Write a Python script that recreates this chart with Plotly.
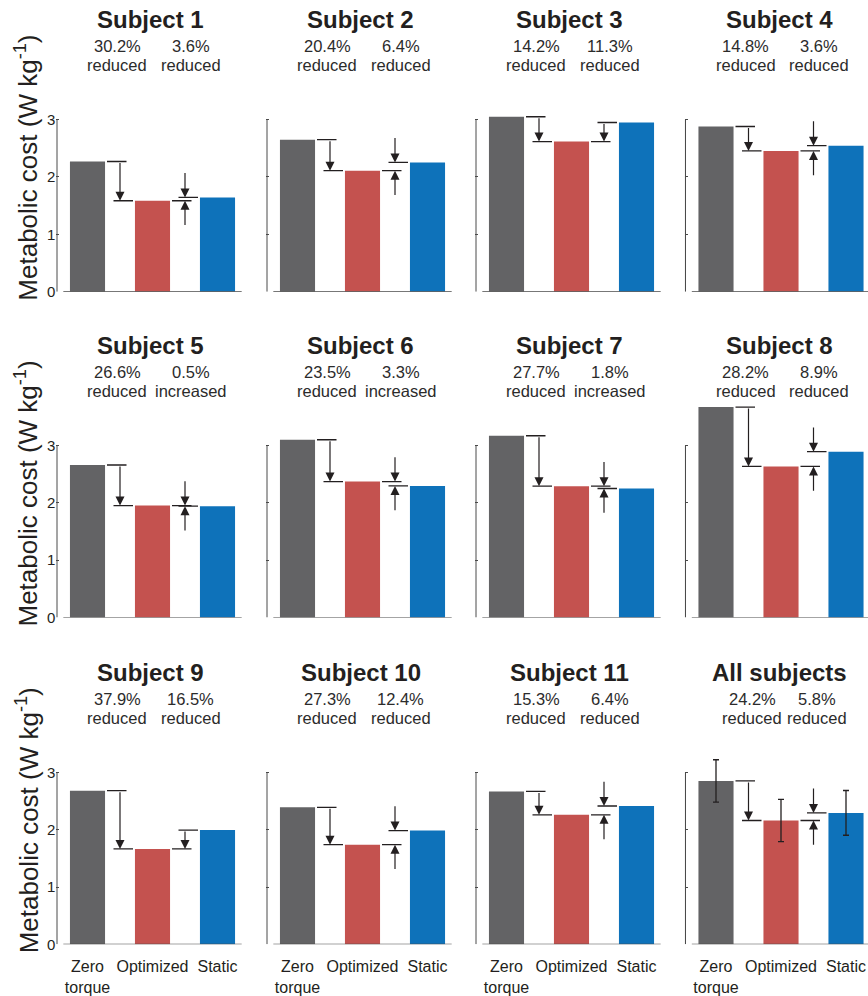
import plotly.graph_objects as go

# ---- data -------------------------------------------------------------
subjects = ["Subject 1", "Subject 2", "Subject 3", "Subject 4",
            "Subject 5", "Subject 6", "Subject 7", "Subject 8",
            "Subject 9", "Subject 10", "Subject 11", "All subjects"]
conditions = ["Zero<br>torque", "Optimized", "Static"]

# metabolic cost, W kg^-1
zero_torque = [2.27, 2.65, 3.05, 2.88, 2.66, 3.10, 3.17, 3.67, 2.68, 2.39, 2.667, 2.85]
optimized = [1.585, 2.11, 2.617, 2.454, 1.952, 2.37, 2.29, 2.635, 1.664, 1.738, 2.259, 2.16]
static = [1.644, 2.254, 2.95, 2.546, 1.942, 2.295, 2.25, 2.892, 1.993, 1.984, 2.413, 2.293]

# change of optimized vs zero torque and vs static
change_vs_zero = ["30.2%", "20.4%", "14.2%", "14.8%", "26.6%", "23.5%",
                  "27.7%", "28.2%", "37.9%", "27.3%", "15.3%", "24.2%"]
change_vs_static = ["3.6%", "6.4%", "11.3%", "3.6%", "0.5%", "3.3%",
                    "1.8%", "8.9%", "16.5%", "12.4%", "6.4%", "5.8%"]
direction_vs_zero = ["reduced"] * 12
direction_vs_static = ["reduced", "reduced", "reduced", "reduced",
                       "increased", "increased", "increased", "reduced",
                       "reduced", "reduced", "reduced", "reduced"]

# group mean standard deviation (All subjects)
all_sd = [0.37, 0.37, 0.39]

y_ticks = [0, 1, 2, 3]

# ---- style ------------------------------------------------------------
W, H = 868, 996
FONT = "Liberation Sans, Arial, Helvetica, sans-serif"
BAR_COLORS = ["#636365", "#c4524f", "#0e72ba"]
INK = "#231f20"
AXIS_COLOR = "#4a4a4a"

col_center_px = [87.5, 297.5, 506.5, 716.0]   # pixel x of the first bar
row_base_px = [294.0, 622.5, 952.0]          # pixel y of the zero line
PX_X = 65.0                                   # pixels per category
PX_Y = 57.8                                   # pixels per W/kg
X_LO = -0.48
Y_HI = 3.8
BAR_W = 0.54
SMALL_GAP = 0.3          # below this, draw converging arrows
INWARD_LEN = 0.45

label_x = [(0.46, 1.59)] * 11 + [(0.56, 1.55)]

fig = go.Figure()
layout = dict(
    width=W, height=H, autosize=False,
    margin=dict(l=0, r=0, t=0, b=0),
    paper_bgcolor="white", plot_bgcolor="white",
    showlegend=False,
    font=dict(family=FONT, color=INK),
)
shapes = []
annotations = []


def py(px_from_top):
    return (H - px_from_top) / H


for k, name in enumerate(subjects):
    r, c = divmod(k, 4)
    cx = col_center_px[c]
    by = row_base_px[r]
    sfx = "" if k == 0 else str(k + 1)
    xa, ya = "x" + sfx, "y" + sfx
    x_hi = min(2.38, (W - cx) / PX_X)

    layout["xaxis" + sfx] = dict(
        domain=[max(0.0, (cx + X_LO * PX_X) / W), min(1.0, (cx + x_hi * PX_X) / W)],
        range=[X_LO, x_hi], anchor=ya,
        showgrid=False, zeroline=False, showline=False, ticks="",
        tickvals=[0, 1, 2], ticktext=conditions,
        showticklabels=(r == 2), ticklabelstandoff=11,
        tickfont=dict(size=16, family=FONT, color=INK),
        fixedrange=True,
    )
    layout["yaxis" + sfx] = dict(
        domain=[(H - by) / H, (H - by + Y_HI * PX_Y) / H],
        range=[0, Y_HI], anchor=xa,
        showgrid=False, zeroline=False, showline=False,
        tickvals=y_ticks, ticks="inside", ticklen=3, tickwidth=1,
        tickcolor=AXIS_COLOR,
        showticklabels=(c == 0),
        tickfont=dict(size=15, family=FONT, color=INK),
        fixedrange=True,
    )

    vals = [zero_torque[k], optimized[k], static[k]]
    bar = dict(
        x=[0, 1, 2], y=vals, width=BAR_W,
        marker=dict(color=BAR_COLORS, line=dict(width=0)),
        xaxis=xa, yaxis=ya, hoverinfo="skip",
    )
    if name == "All subjects":
        bar["error_y"] = dict(type="data", array=all_sd, visible=True,
                              color=INK, thickness=1.3, width=3)
    fig.add_trace(go.Bar(**bar))

    # y spine from 0 to the top tick, and the zero line under the bars
    shapes.append(dict(type="line", xref=xa, yref=ya,
                       x0=X_LO + 0.6 / PX_X, x1=X_LO + 0.6 / PX_X,
                       y0=y_ticks[0], y1=y_ticks[-1],
                       line=dict(color=AXIS_COLOR, width=1.2)))
    shapes.append(dict(type="line", xref=xa, yref=ya,
                       x0=-0.372, x1=min(2.372, x_hi), y0=0, y1=0,
                       line=dict(color=AXIS_COLOR, width=1.2)))

    # comparison markers: 0 -> zero torque vs optimized, 1 -> optimized vs static
    for j in (0, 1):
        left, right = vals[j], vals[j + 1]
        shapes.append(dict(type="line", xref=xa, yref=ya,
                           x0=j + 0.3, x1=j + 0.6, y0=left, y1=left,
                           line=dict(color=INK, width=1.3)))
        shapes.append(dict(type="line", xref=xa, yref=ya,
                           x0=j + 0.4, x1=j + 0.7, y0=right, y1=right,
                           line=dict(color=INK, width=1.3)))
        start = left if j == 0 else right
        end = vals[1]
        xm = j + 0.5
        arrow = dict(xref=xa, yref=ya, axref=xa, ayref=ya, text="",
                     showarrow=True, arrowhead=2, arrowsize=1.5,
                     arrowwidth=1.2, arrowcolor=INK, standoff=0,
                     startstandoff=0)
        if abs(left - right) > SMALL_GAP:
            annotations.append(dict(arrow, x=xm, y=end, ax=xm, ay=start))
        else:
            hi, lo = max(left, right), min(left, right)
            annotations.append(dict(arrow, x=xm, y=hi, ax=xm, ay=hi + INWARD_LEN))
            annotations.append(dict(arrow, x=xm, y=lo, ax=xm, ay=lo - INWARD_LEN))

    # panel title and the two change labels
    annotations.append(dict(xref=xa, yref="paper", x=0.97, y=py(by - 274.5),
                            text="<b>%s</b>" % name, showarrow=False,
                            xanchor="center", yanchor="middle",
                            font=dict(size=24, family=FONT, color=INK)))
    lx0, lx1 = label_x[k]
    for lx, pct, word in ((lx0, change_vs_zero[k], direction_vs_zero[k]),
                          (lx1, change_vs_static[k], direction_vs_static[k])):
        annotations.append(dict(xref=xa, yref="paper", x=lx, y=py(by - 247.3),
                                text=pct, showarrow=False,
                                xanchor="center", yanchor="middle",
                                font=dict(size=16.5, family=FONT, color="#2b2b2b")))
        annotations.append(dict(xref=xa, yref="paper", x=lx, y=py(by - 228.0),
                                text=word, showarrow=False,
                                xanchor="center", yanchor="middle",
                                font=dict(size=16.5, family=FONT, color="#2b2b2b")))

# y-axis titles, one per row
for by in row_base_px:
    annotations.append(dict(xref="paper", yref="paper", x=27 / W, y=py(by - 125),
                            text="Metabolic cost (W kg<sup>-1</sup>)",
                            textangle=-90, showarrow=False,
                            xanchor="center", yanchor="middle",
                            font=dict(size=26, family=FONT, color=INK)))

layout["shapes"] = shapes
layout["annotations"] = annotations
fig.update_layout(**layout)
fig.write_html("out.html")
